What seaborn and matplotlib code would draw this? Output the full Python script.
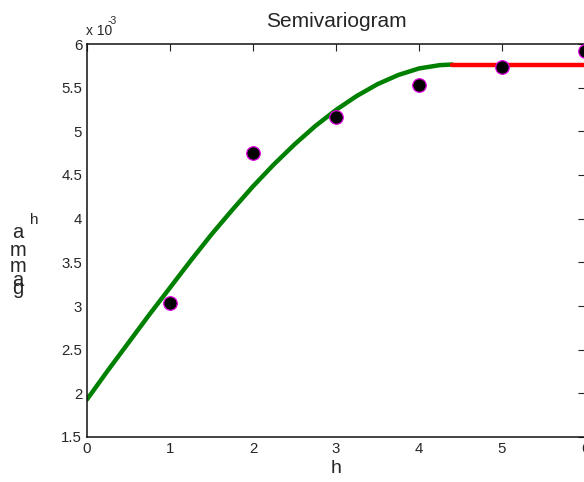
import matplotlib
matplotlib.use("Agg")
import matplotlib.pyplot as plt
import seaborn as sns
import pandas as pd

# Experimental semivariogram points (lag h, gamma in units of 1e-3)
lag_h = [1, 2, 3, 4, 5, 6]
gamma_exp = [3.03, 4.75, 5.16, 5.53, 5.74, 5.92]

# Fitted model curve (units of 1e-3)
model_h = [0.0, 0.25, 0.5, 0.75, 1.0, 1.25, 1.5, 1.75, 2.0, 2.25, 2.5,
           2.75, 3.0, 3.25, 3.5, 3.75, 4.0, 4.25, 4.4]
model_gamma = [1.93, 2.26, 2.58, 2.90, 3.21, 3.52, 3.82, 4.10, 4.37, 4.62,
               4.85, 5.06, 5.245, 5.405, 5.54, 5.645, 5.72, 5.758, 5.765]

# Sill beyond range
sill_h = [4.4, 6.0]
sill_gamma = [5.765, 5.765]

x_ticks = [0, 1, 2, 3, 4, 5, 6]
y_ticks = [1.5, 2, 2.5, 3, 3.5, 4, 4.5, 5, 5.5, 6]
y_tick_labels = ["1.5", "2", "2.5", "3", "3.5", "4", "4.5", "5", "5.5", "6"]

sns.set_style("white")
plt.rcParams["font.family"] = ["Liberation Sans", "DejaVu Sans"]

W, H = 584, 482
fig = plt.figure(figsize=(W / 100, H / 100), dpi=100)
ax = fig.add_axes([87 / W, 1 - 437 / H, 498 / W, (437 - 44) / H])

df_model = pd.DataFrame({"h": model_h, "g": model_gamma})
df_sill = pd.DataFrame({"h": sill_h, "g": sill_gamma})
df_exp = pd.DataFrame({"h": lag_h, "g": gamma_exp})

sns.lineplot(data=df_model, x="h", y="g", ax=ax, color="#008000",
             linewidth=3.2, sort=True, zorder=2)
sns.lineplot(data=df_sill, x="h", y="g", ax=ax, color="#ff0000",
             linewidth=3.2, zorder=2)
sns.scatterplot(data=df_exp, x="h", y="g", ax=ax, color="black",
                edgecolor="#e000e0", linewidth=0.9, s=95, zorder=3,
                clip_on=False)

ax.set_xlim(0, 6)
ax.set_ylim(1.5, 6)
ax.set_xticks(x_ticks)
ax.set_xticklabels([str(t) for t in x_ticks])
ax.set_yticks(y_ticks)
ax.set_yticklabels(y_tick_labels)
ax.tick_params(direction="in", length=5, width=0.8, color="#222222",
               labelsize=10.8, top=True, right=True, pad=3.5)
for s in ax.spines.values():
    s.set_linewidth(1.1)
    s.set_color("#111111")

ax.set_xlabel("h", fontsize=14, labelpad=3)
ax.set_ylabel("")
ax.set_title("Semivariogram", fontsize=15, pad=12)

# Exponent label
fig.text(86 / W, 1 - 31 / H, "x 10", fontsize=10, ha="left", va="center")
fig.text(108 / W, 1 - 21 / H, "-3", fontsize=7.5, ha="left", va="center")

# Odd stacked y-label
for ch, (px, py) in [("a", (18, 232)), ("m", (18, 250)), ("m", (18, 267)),
                     ("a", (18, 281)), ("g", (18, 288))]:
    fig.text(px / W, 1 - py / H, ch, fontsize=14.5, ha="center", va="center")
fig.text(34 / W, 1 - 220 / H, "h", fontsize=11, ha="center", va="center")

fig.savefig("out.png", dpi=100)
